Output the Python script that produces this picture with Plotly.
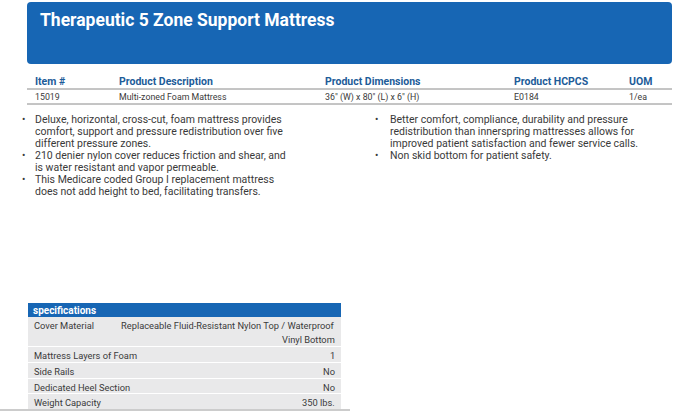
import plotly.graph_objects as go

title = "Therapeutic 5 Zone Support Mattress"
header_labels = ["Item #", "Product Description", "Product Dimensions", "Product HCPCS", "UOM"]
row_values = ["15019", "Multi-zoned Foam Mattress", '36" (W) x 80" (L) x 6" (H)', "E0184", "1/ea"]
col_x = [33, 117, 323, 512, 627]
left_bullets = [
    ["Deluxe, horizontal, cross-cut, foam mattress provides", "comfort, support and pressure redistribution over five", "different pressure zones."],
    ["210 denier nylon cover reduces friction and shear, and", "is water resistant and vapor permeable."],
    ["This Medicare coded Group I replacement mattress", "does not add height to bed, facilitating transfers."],
]
right_bullets = [
    ["Better comfort, compliance, durability and pressure", "redistribution than innerspring mattresses allows for", "improved patient satisfaction and fewer service calls."],
    ["Non skid bottom for patient safety."],
]
spec_labels = ["Cover Material", "Mattress Layers of Foam", "Side Rails", "Dedicated Heel Section", "Weight Capacity"]
spec_values = [["Replaceable Fluid-Resistant Nylon Top / Waterproof", "Vinyl Bottom"], ["1"], ["No"], ["No"], ["350 lbs."]]

BLUE = "#1766b4"
HDR = "#1d5c99"
TXT = "#3a3a3a"
FONT = "Roboto"

fig = go.Figure()
shapes, ann = [], []

def text(x, y, s, size=9.5, color=TXT, anchor="left", bold=False):
    ann.append(dict(x=x, y=y, text=f"<b>{s}</b>" if bold else s, showarrow=False, xanchor=anchor,
                    yanchor="middle", font=dict(size=size, color=color, family=FONT)))

shapes.append(dict(type="path", path="M 31 2 L 668 2 Q 672 2 672 6 L 672 60 Q 672 64 668 64 L 31 64 Q 27 64 27 60 L 27 6 Q 27 2 31 2 Z",
                   fillcolor=BLUE, line=dict(width=0)))
text(38, 20, title, size=17.5, color="white", bold=True)

for x, h, v in zip(col_x, header_labels, row_values):
    text(x, 81, h, size=10.5, color=HDR, bold=True)
    text(x, 97, v, size=8.8)
shapes.append(dict(type="line", x0=27, x1=672, y0=89, y1=89, line=dict(color="#8a8a8a", width=1)))
shapes.append(dict(type="line", x0=27, x1=672, y0=104, y1=104, line=dict(color="#8a8a8a", width=1)))

def bullets(groups, xb, xt):
    y = 119
    for g in groups:
        text(xb, y, "•", size=10)
        for line in g:
            text(xt, y, line, size=10.5)
            y += 12
bullets(left_bullets, 20, 33)
bullets(right_bullets, 373, 388)

shapes.append(dict(type="rect", x0=28, x1=341, y0=303, y1=317, fillcolor=BLUE, line=dict(width=0)))
text(31, 310, "specifications", size=10, color="white", bold=True)
rows = [(317, 346), (347, 362), (363, 378), (379, 393), (394, 409)]
for (y0, y1), lab, val in zip(rows, spec_labels, spec_values):
    shapes.append(dict(type="rect", x0=28, x1=341, y0=y0, y1=y1, fillcolor="#e9e9ea", line=dict(width=0)))
    text(32, y0 + 8, lab, size=9.3)
    for i, v in enumerate(val):
        text(337, y0 + 8 + i * 14, v, size=9.3, anchor="right")
shapes.append(dict(type="line", x0=0, x1=350, y0=410, y1=410, line=dict(color="#999", width=1)))

fig.update_layout(width=679, height=411, margin=dict(l=0, r=0, t=0, b=0),
                  paper_bgcolor="white", plot_bgcolor="white",
                  xaxis=dict(range=[0, 679], visible=False, fixedrange=True),
                  yaxis=dict(range=[411, 0], visible=False, fixedrange=True),
                  shapes=shapes, annotations=ann, showlegend=False)
fig.write_html("out.html", config={"displayModeBar": False},
               post_script="document.body.style.margin='0';document.body.style.overflow='hidden';")
